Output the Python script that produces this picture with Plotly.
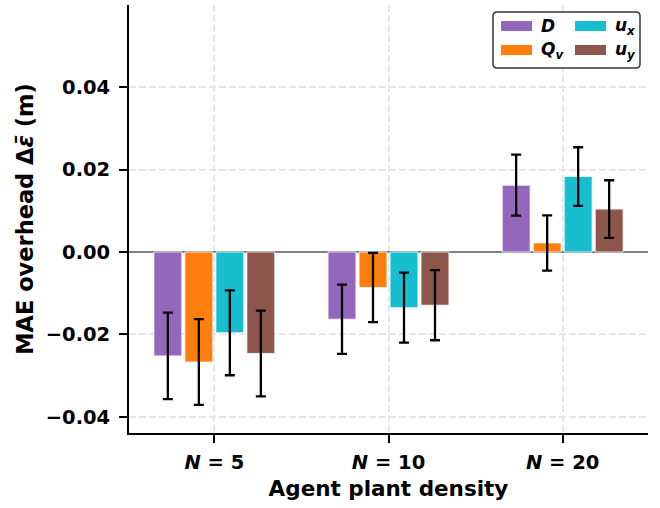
import plotly.graph_objects as go

categories = ["<i>N</i> = 5", "<i>N</i> = 10", "<i>N</i> = 20"]
series_names = ["D", "Qv", "ux", "uy"]
series_labels = ["<b><i>D</i></b>", "<b><i>Q</i><sub><i>v</i></sub></b>",
                 "<b><i>u</i><sub><i>x</i></sub></b>", "<b><i>u</i><sub><i>y</i></sub></b>"]
colors = ["#9467bd", "#ff7f0e", "#17becf", "#8c564b"]

mean_D = [-0.0252, -0.0163, 0.0162]
mean_Qv = [-0.0267, -0.0086, 0.0022]
mean_ux = [-0.0196, -0.0135, 0.0183]
mean_uy = [-0.0246, -0.0129, 0.0104]

err_D = [0.0105, 0.0084, 0.0074]
err_Qv = [0.0104, 0.0084, 0.0067]
err_ux = [0.0103, 0.0085, 0.0071]
err_uy = [0.0104, 0.0085, 0.0070]

y_ticks = [-0.04, -0.02, 0.0, 0.02, 0.04]
y_tick_text = ["\u22120.04", "\u22120.02", "0.00", "0.02", "0.04"]

means = [mean_D, mean_Qv, mean_ux, mean_uy]
errs = [err_D, err_Qv, err_ux, err_uy]

FONT = "DejaVu Sans"
W, H = 660, 508
ML, MR, MT, MB = 129, 12, 5, 75

fig = go.Figure()
for name, m, e, c in zip(series_names, means, errs, colors):
    fig.add_trace(go.Bar(
        x=categories, y=m, name=name, marker=dict(color=c, line=dict(color="white", width=0.8)),
        error_y=dict(type="data", array=e, visible=True, color="black", thickness=2.3, width=5),
        showlegend=False,
    ))

fig.update_layout(
    width=W, height=H,
    margin=dict(l=ML, r=MR, t=MT, b=MB),
    plot_bgcolor="white", paper_bgcolor="white",
    barmode="group", bargap=0.288, bargroupgap=0.1,
    font=dict(family=FONT, color="black"),
)

fig.update_xaxes(
    range=[-0.49, 2.49], automargin=False,
    showline=True, linecolor="black", linewidth=1.8,
    ticks="outside", ticklen=8, tickwidth=1.5, tickcolor="black",
    ticklabelstandoff=3,
    tickfont=dict(family=FONT, size=19.5, color="black", weight="bold"),
    showgrid=True, gridcolor="#e6e6e6", gridwidth=1.5, griddash="7px,3px",
    title=dict(text="<b>Agent plant density</b>", font=dict(family=FONT, size=21.5), standoff=8),
)
fig.update_yaxes(
    range=[-0.0439, 0.0599], automargin=False,
    tickvals=y_ticks, ticktext=y_tick_text,
    showline=True, linecolor="black", linewidth=1.8,
    ticks="outside", ticklen=8, tickwidth=1.5, tickcolor="black",
    ticklabelstandoff=5,
    tickfont=dict(family=FONT, size=19.5, color="black", weight="bold"),
    showgrid=True, gridcolor="#e6e6e6", gridwidth=1.5, griddash="7px,3px",
    zeroline=True, zerolinecolor="#808080", zerolinewidth=1.5,
    title=dict(text="<b>MAE overhead \u0394<i>\u03b5\u0304</i> (m)</b>", font=dict(family=FONT, size=22.5), standoff=6),
)

# manual two-column legend (matplotlib-like)
pw = W - ML - MR
ph = H - MT - MB
def px(x):
    return (x - ML) / pw
def py(y):
    return (H - MB - y) / ph

x0, x1, y0, y1, r = 493, 640, 12, 68, 4
path = (f"M {px(x0+r)},{py(y0)} L {px(x1-r)},{py(y0)} Q {px(x1)},{py(y0)} {px(x1)},{py(y0+r)} "
        f"L {px(x1)},{py(y1-r)} Q {px(x1)},{py(y1)} {px(x1-r)},{py(y1)} "
        f"L {px(x0+r)},{py(y1)} Q {px(x0)},{py(y1)} {px(x0)},{py(y1-r)} "
        f"L {px(x0)},{py(y0+r)} Q {px(x0)},{py(y0)} {px(x0+r)},{py(y0)} Z")
fig.add_shape(type="path", path=path, xref="paper", yref="paper",
              line=dict(color="#333333", width=1.5), fillcolor="white", layer="above")

slots = [(501, 26), (501, 50), (575, 26), (575, 50)]
for (sx, sy), lab, c in zip(slots, series_labels, colors):
    fig.add_shape(type="rect", xref="paper", yref="paper",
                  x0=px(sx), x1=px(sx + 31), y0=py(sy - 5), y1=py(sy + 5),
                  fillcolor=c, line=dict(width=0), layer="above")
    fig.add_annotation(x=px(sx + 38), y=py(sy), xref="paper", yref="paper",
                       text=lab, showarrow=False, xanchor="left", yanchor="middle",
                       font=dict(family=FONT, size=17, color="black"))

fig.write_html("out.html")
